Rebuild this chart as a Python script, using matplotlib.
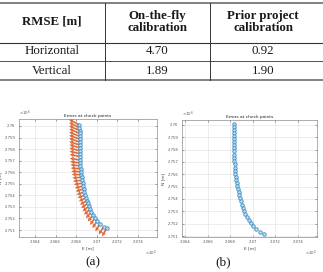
import matplotlib
matplotlib.use("Agg")
import matplotlib.pyplot as plt
from matplotlib.ticker import FuncFormatter, FixedLocator

# ---------------- data ----------------
table_cols = ["RMSE [m]", "On-the-fly\ncalibration", "Prior project\ncalibration"]
table_rows = ["Horizontal", "Vertical"]
rmse_onfly = ["4.70", "1.89"]
rmse_prior = ["0.92", "1.90"]

N = [2760100, 2759850, 2759600, 2759350, 2759100, 2758850, 2758600, 2758350,
     2758100, 2757850, 2757600, 2757350, 2757050, 2756800, 2756550, 2756300,
     2756050, 2755800, 2755550, 2755300, 2755050, 2754800, 2754550, 2754300,
     2754050, 2753800, 2753550, 2753300, 2753050, 2752800, 2752550, 2752300,
     2752050, 2751800, 2751550, 2751300, 2751150]
E = [2068300, 2068320, 2068330, 2068340, 2068340, 2068350, 2068350, 2068350,
     2068360, 2068360, 2068360, 2068370, 2068370, 2068380, 2068400, 2068420,
     2068450, 2068480, 2068520, 2068570, 2068620, 2068680, 2068740, 2068800,
     2068870, 2068950, 2069030, 2069120, 2069220, 2069340, 2069480, 2069640,
     2069830, 2070050, 2070320, 2070650, 2070950]
# errors, on-the-fly calibration (scaled for display)
dE_a = [-1000, -1010, -1020, -1020, -1030, -1030, -1030, -1030,
        -1020, -1020, -1010, -1000, -990, -980, -960, -950,
        -930, -910, -890, -870, -850, -820, -790, -760,
        -730, -700, -670, -640, -610, -580, -550, -520,
        -500, -480, -460, -450, -440]
dN_a = [460, 440, 420, 400, 380, 350, 330, 300,
        280, 250, 220, 190, 160, 120, 90, 60,
        30, 0, -40, -80, -120, -160, -200, -240,
        -280, -320, -360, -400, -440, -480, -520, -560,
        -600, -630, -660, -690, -700]
# errors, prior project calibration (scaled for display)
dE_b = [-60, -50, -40, -50, -30, -40, -30, -40,
        -30, -20, -30, -20, -30, -20, -20, -30,
        -20, -30, -20, -20, -30, -20, -20, -30,
        -20, -20, -30, -20, -20, -20, -30, -20,
        -20, -20, -30, -20, -20]
dN_b = [90, 60, 40, 50, 30, 40, 30, 20,
        30, 20, 20, 30, 20, 10, 20, 10,
        10, 0, 10, 0, -10, 0, -10, -10,
        -10, -20, -10, -20, -10, -20, -20, -10,
        -20, -20, -10, -20, -20]

xticks_vals = [2064000, 2066000, 2068000, 2070000, 2072000, 2074000]
yticks_vals = [2751000, 2752000, 2753000, 2754000, 2755000, 2756000,
               2757000, 2758000, 2759000, 2760000]

# ---------------- figure ----------------
W, H = 323, 272
fig = plt.figure(figsize=(W / 100, H / 100), dpi=100)
fig.patch.set_facecolor("white")

ov = fig.add_axes([0, 0, 1, 1])
ov.set_xlim(0, W)
ov.set_ylim(H, 0)
ov.axis("off")

serif = "Liberation Serif"
tcol = "#1a1a1a"
# table rules
ov.plot([0, W], [3.2, 3.2], color="#777777", lw=1.3, solid_capstyle="butt")
ov.plot([0, W], [42.5, 42.5], color="#333333", lw=0.8)
ov.plot([0, W], [60.5, 60.5], color="#333333", lw=0.6)
ov.plot([0, W], [79.5, 79.5], color="#777777", lw=1.3, solid_capstyle="butt")
for xv in (105, 210):
    ov.plot([xv, xv], [3.2, 79.5], color="#333333", lw=0.7)

col_x = [52, 157, 263]
for cx, lab in zip(col_x, table_cols):
    ov.text(cx, 22, lab, ha="center", va="center", fontsize=9.3,
            fontweight="bold", family=serif, color=tcol, linespacing=1.0)
row_y = [51.5, 70.5]
for ry, lab, v1, v2 in zip(row_y, table_rows, rmse_onfly, rmse_prior):
    ov.text(col_x[0], ry, lab, ha="center", va="center", fontsize=9.3,
            family=serif, color=tcol)
    ov.text(col_x[1], ry, v1, ha="center", va="center", fontsize=9.3,
            family=serif, color=tcol)
    ov.text(col_x[2], ry, v2, ha="center", va="center", fontsize=9.3,
            family=serif, color=tcol)

ov.text(93, 262, "(a)", ha="center", va="center", fontsize=9.5,
        family=serif, color=tcol)
ov.text(223, 262, "(b)", ha="center", va="center", fontsize=9.5,
        family=serif, color=tcol)

fmt = FuncFormatter(lambda v, p: "%g" % (v / 1e6))
small = 2.7


def make_axes(rect_px, xlim, ylim, dE, dN, arrow_col):
    x0, y0, x1, y1 = rect_px
    ax = fig.add_axes([x0 / W, 1 - y1 / H, (x1 - x0) / W, (y1 - y0) / H])
    ax.set_facecolor("white")
    ax.quiver(E, N, dE, dN, angles="xy", scale_units="xy", scale=1,
              color=arrow_col, width=0.012, headwidth=2.6, headlength=2.6,
              headaxislength=2.3, zorder=3, alpha=0.85)
    ax.plot(E, N, "o", ms=2.5, mfc="#bfe0f0", mec="#3a8cc4", mew=0.6, zorder=4)
    ax.set_xlim(*xlim)
    ax.set_ylim(*ylim)
    ax.xaxis.set_major_locator(FixedLocator(xticks_vals))
    ax.yaxis.set_major_locator(FixedLocator(yticks_vals))
    ax.xaxis.set_major_formatter(fmt)
    ax.yaxis.set_major_formatter(fmt)
    ax.tick_params(direction="in", length=1.5, width=0.4, labelsize=small,
                   colors="#555555", pad=2.5, top=True, right=True)
    ax.grid(True, color="#e0e0e0", lw=0.4)
    ax.set_axisbelow(True)
    for s in ax.spines.values():
        s.set_color("#8c8c8c")
        s.set_linewidth(0.5)
    ax.set_title("Errors at check points", fontsize=3.2, pad=1.5, color="#222222")
    ax.set_xlabel("E [m]", fontsize=3.2, labelpad=1.5, color="#444444")
    ax.set_ylabel("N [m]", fontsize=3.2, labelpad=1.5, color="#444444")
    ax.text(0.0, 1.01, r"$\times10^6$", transform=ax.transAxes, fontsize=2.8,
            ha="left", va="bottom", color="#555555")
    ax.text(1.0, -0.1, r"$\times10^6$", transform=ax.transAxes, fontsize=2.8,
            ha="right", va="top", color="#555555")
    return ax


make_axes((19, 119, 157, 237), (2062450, 2075840), (2750400, 2760600),
          dE_a, dN_a, "#D95319")
make_axes((182, 120, 317, 237), (2063730, 2075680), (2750920, 2760400),
          dE_b, dN_b, "#D95319")

fig.savefig("out.png", dpi=100, facecolor="white")
